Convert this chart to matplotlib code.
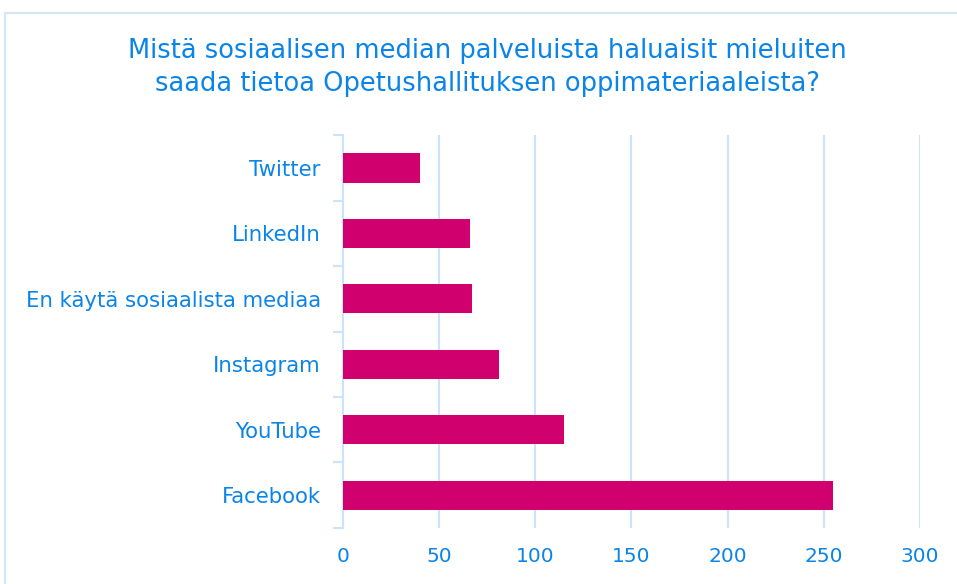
import matplotlib.pyplot as plt
from matplotlib.patches import Rectangle

# Survey answers (number of respondents)
categories = ['Twitter', 'LinkedIn', 'En käytä sosiaalista mediaa',
              'Instagram', 'YouTube', 'Facebook']
counts = [40, 66, 67, 81, 115, 255]
xticks = [0, 50, 100, 150, 200, 250, 300]

text_color = '#0B84E8'
bar_color = '#D1006F'
grid_color = '#CCE4FB'

plt.rcParams['font.family'] = ['DejaVu Sans']

fig = plt.figure(figsize=(9.57, 5.84), dpi=100)
ax = fig.add_axes([0.3584, 0.0959, 0.6029, 0.6729])

# Categories top to bottom
ypos = list(range(len(categories)))
ax.barh(ypos, counts, height=0.45, color=bar_color, zorder=3)
ax.set_ylim(len(categories) - 0.5, -0.5)
ax.set_xlim(0, 300)

ax.set_yticks(ypos)
ax.set_yticklabels(categories)
# category separators as outward minor ticks
ax.set_yticks([y - 0.5 for y in range(len(categories) + 1)], minor=True)
ax.tick_params(axis='y', which='major', length=0, pad=16, labelsize=15.3,
               labelcolor=text_color)
ax.tick_params(axis='y', which='minor', length=7, width=1.5, color=grid_color)

ax.set_xticks(xticks)
ax.tick_params(axis='x', length=0, pad=14, labelsize=14.5, labelcolor=text_color)
ax.grid(axis='x', color=grid_color, linewidth=1.5, zorder=0)

for side in ['top', 'right', 'bottom']:
    ax.spines[side].set_visible(False)
ax.spines['left'].set_color(grid_color)
ax.spines['left'].set_linewidth(1.5)

fig.text(0.509, 0.884, 'Mistä sosiaalisen median palveluista haluaisit mieluiten\n'
         'saada tietoa Opetushallituksen oppimateriaaleista?',
         ha='center', va='center', fontsize=18.5, color=text_color, linespacing=1.35)

# chart frame
fig.patches.append(Rectangle((5 / 957, -0.05), 1.1, 1 - 13 / 584 + 0.05,
                             transform=fig.transFigure, fill=False,
                             edgecolor='#D3E6FA', linewidth=1.5))

fig.savefig('out.png', dpi=100)
